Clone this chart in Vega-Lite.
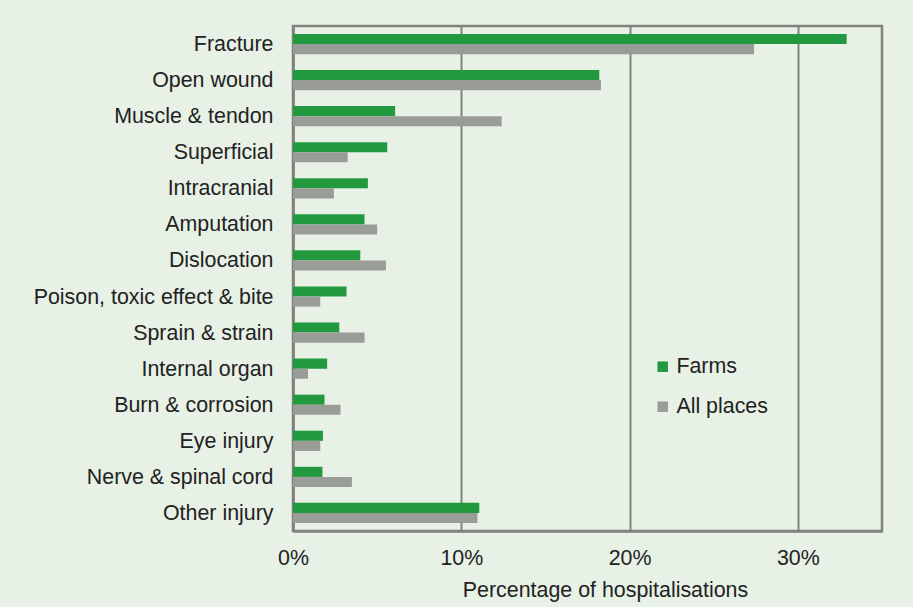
{
  "$schema": "https://vega.github.io/schema/vega-lite/v6.json",
  "width": 589,
  "height": 505,
  "autosize": {"type": "none"},
  "padding": {"left": 293, "top": 26, "right": 31, "bottom": 76},
  "background": "#E7F1E5",
  "config": {
    "font": "Liberation Sans",
    "view": {"stroke": "#7F857D", "strokeWidth": 2.5, "fill": "#E7F1E5"}
  },
  "data": {
    "values": [
      {"injury": "Fracture", "place": "Farms", "pct": 0.329},
      {"injury": "Fracture", "place": "All places", "pct": 0.274},
      {"injury": "Open wound", "place": "Farms", "pct": 0.182},
      {"injury": "Open wound", "place": "All places", "pct": 0.183},
      {"injury": "Muscle & tendon", "place": "Farms", "pct": 0.0607},
      {"injury": "Muscle & tendon", "place": "All places", "pct": 0.124},
      {"injury": "Superficial", "place": "Farms", "pct": 0.056},
      {"injury": "Superficial", "place": "All places", "pct": 0.0325},
      {"injury": "Intracranial", "place": "Farms", "pct": 0.0445},
      {"injury": "Intracranial", "place": "All places", "pct": 0.0243},
      {"injury": "Amputation", "place": "Farms", "pct": 0.0425},
      {"injury": "Amputation", "place": "All places", "pct": 0.050},
      {"injury": "Dislocation", "place": "Farms", "pct": 0.040},
      {"injury": "Dislocation", "place": "All places", "pct": 0.0552},
      {"injury": "Poison, toxic effect & bite", "place": "Farms", "pct": 0.0318},
      {"injury": "Poison, toxic effect & bite", "place": "All places", "pct": 0.0162},
      {"injury": "Sprain & strain", "place": "Farms", "pct": 0.0275},
      {"injury": "Sprain & strain", "place": "All places", "pct": 0.0425},
      {"injury": "Internal organ", "place": "Farms", "pct": 0.0203},
      {"injury": "Internal organ", "place": "All places", "pct": 0.0089},
      {"injury": "Burn & corrosion", "place": "Farms", "pct": 0.0187},
      {"injury": "Burn & corrosion", "place": "All places", "pct": 0.0282},
      {"injury": "Eye injury", "place": "Farms", "pct": 0.0178},
      {"injury": "Eye injury", "place": "All places", "pct": 0.0162},
      {"injury": "Nerve & spinal cord", "place": "Farms", "pct": 0.0175},
      {"injury": "Nerve & spinal cord", "place": "All places", "pct": 0.035},
      {"injury": "Other injury", "place": "Farms", "pct": 0.1107},
      {"injury": "Other injury", "place": "All places", "pct": 0.1096}
    ]
  },
  "mark": {"type": "bar", "stroke": null},
  "encoding": {
    "y": {
      "field": "injury",
      "type": "nominal",
      "sort": null,
      "scale": {"paddingInner": 0.44, "paddingOuter": 0.22},
      "axis": {
        "title": null,
        "ticks": false,
        "domainColor": "#7F857D",
        "domainWidth": 2.5,
        "labelFontSize": 21.4,
        "labelColor": "#222222",
        "labelPadding": 20,
        "labelLimit": 400,
        "labelOffset": 1
      }
    },
    "yOffset": {
      "field": "place",
      "type": "nominal",
      "sort": ["Farms", "All places"],
      "scale": {"paddingInner": 0, "paddingOuter": 0}
    },
    "x": {
      "field": "pct",
      "type": "quantitative",
      "scale": {"domain": [0, 0.35], "nice": false},
      "axis": {
        "values": [0, 0.1, 0.2, 0.3],
        "format": ".0%",
        "labelFlush": false,
        "title": "Percentage of hospitalisations",
        "titleFontSize": 21.4,
        "titleFontWeight": "normal",
        "titleColor": "#222222",
        "titleX": 312,
        "titleY": 65,
        "titleBaseline": "alphabetic",
        "ticks": false,
        "grid": true,
        "gridColor": "#7F857D",
        "gridWidth": 2,
        "domainColor": "#7F857D",
        "domainWidth": 2.5,
        "labelFontSize": 21.4,
        "labelColor": "#222222",
        "labelPadding": 16
      }
    },
    "color": {
      "field": "place",
      "type": "nominal",
      "sort": ["Farms", "All places"],
      "scale": {"domain": ["Farms", "All places"], "range": ["#22993F", "#9A9C97"]},
      "legend": {
        "title": null,
        "orient": "none",
        "legendX": 359,
        "legendY": 330,
        "symbolType": "square",
        "symbolSize": 110,
        "symbolStrokeWidth": 0,
        "labelFontSize": 21.4,
        "labelColor": "#222222",
        "labelOffset": 3,
        "rowPadding": 17
      }
    }
  }
}
